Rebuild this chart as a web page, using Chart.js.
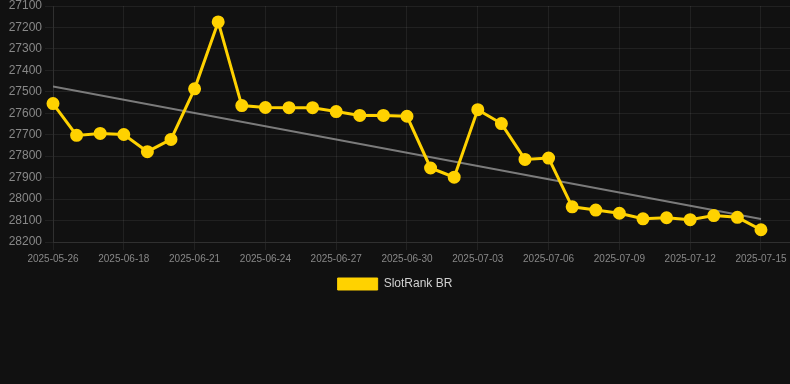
<!DOCTYPE html>
<html lang="pt-br">
<head>
  <meta charset="UTF-8" />
  <title>SlotRank BR</title>
  <script src="https://cdn.jsdelivr.net/npm/chart.js"></script>
  <style>
    body { margin: 0; background: #111111; }
    .grafico { position: relative; width: 790px; height: 300px; }
  </style>
</head>
<body>
  <div class="grafico">
    <canvas id="graficoRank"></canvas>
  </div>

  <script>
    var datas = [
      "2025-05-26", "2025-06-16", "2025-06-17", "2025-06-18", "2025-06-19", "2025-06-20",
      "2025-06-21", "2025-06-22", "2025-06-23", "2025-06-24", "2025-06-25", "2025-06-26",
      "2025-06-27", "2025-06-28", "2025-06-29", "2025-06-30", "2025-07-01", "2025-07-02",
      "2025-07-03", "2025-07-04", "2025-07-05", "2025-07-06", "2025-07-07", "2025-07-08",
      "2025-07-09", "2025-07-10", "2025-07-11", "2025-07-12", "2025-07-13", "2025-07-14",
      "2025-07-15"
    ];
    var rank = [
      27555, 27703, 27694, 27699, 27779, 27722,
      27486, 27174, 27564, 27573, 27574, 27574,
      27592, 27610, 27610, 27614, 27855, 27898,
      27583, 27648, 27815, 27809, 28036, 28051,
      28066, 28092, 28087, 28096, 28077, 28085,
      28143
    ];
    // tendencia: valor no inicio e no fim
    var tendencia = [27475, 28093];
    var yMin = 27100, yMax = 28200, yPasso = 100;

    var pontos = [];
    for (var i = 0; i < rank.length; i++) {
      pontos.push({ x: i, y: rank[i] });
    }
    var linhaTendencia = [
      { x: 0, y: tendencia[0] },
      { x: datas.length - 1, y: tendencia[1] }
    ];

    var grade = "rgba(255, 255, 255, 0.07)";
    var fonte = "Liberation Sans, Arial";

    new Chart(graficoRank, {
      type: "line",
      data: {
        datasets: [{
          label: "SlotRank BR",
          data: pontos,
          borderColor: "#ffd200",
          backgroundColor: "#ffd200",
          borderWidth: 3,
          pointRadius: 5,
          pointHoverRadius: 6,
          tension: 0,
          clip: false
        }, {
          label: "Tendência",
          data: linhaTendencia,
          borderColor: "rgba(150, 150, 150, 0.8)",
          backgroundColor: "rgba(150, 150, 150, 0.8)",
          borderWidth: 2,
          pointRadius: 0,
          tension: 0
        }]
      },
      options: {
        responsive: true,
        maintainAspectRatio: false,
        animation: false,
        layout: { autoPadding: false, padding: 0 },
        plugins: {
          legend: {
            position: "bottom",
            labels: {
              color: "#d0d0d0",
              font: { family: fonte, size: 12 },
              generateLabels: function (chart) {
                var itens = Chart.defaults.plugins.legend.labels.generateLabels(chart);
                itens.forEach(function (it) { it.lineWidth = 1; });
                return itens;
              },
              filter: function (item) { return item.datasetIndex === 0; }
            }
          },
          tooltip: { enabled: false }
        },
        scales: {
          x: {
            type: "linear",
            min: 0,
            max: 31.23,
            afterFit: function (s) { s.paddingRight = 0; },
            grid: { color: grade },
            border: { color: grade },
            ticks: {
              stepSize: 3,
              autoSkip: false,
              includeBounds: false,
              maxRotation: 0,
              color: "#888888",
              font: { family: fonte, size: 10 },
              callback: function (v) { return datas[v] || ""; }
            }
          },
          y: {
            reverse: true,
            min: yMin,
            max: yMax,
            afterFit: function (s) { s.paddingTop = 6; s.width = 53; },
            grid: { color: grade },
            border: { color: grade },
            ticks: {
              stepSize: yPasso,
              color: "#888888",
              font: { family: fonte, size: 12 },
              callback: function (v) { return String(v); }
            }
          }
        }
      }
    });
  </script>
</body>
</html>
